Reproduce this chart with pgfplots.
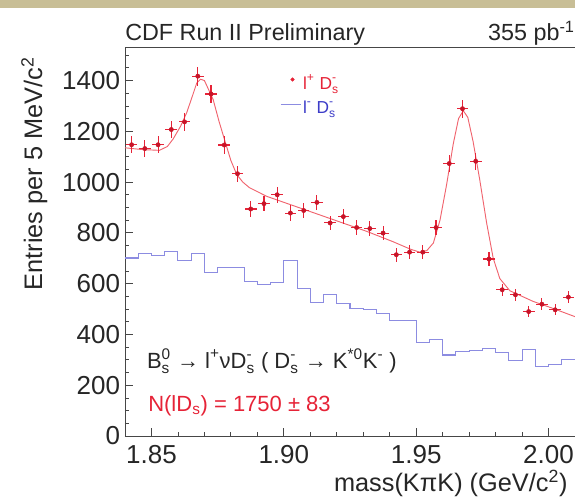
\documentclass[border=0pt]{standalone}
\usepackage{amsmath}
\usepackage{fontspec}
\setmainfont{Liberation Sans}
\usepackage{pgfplots}
\pgfplotsset{compat=1.18}
\usepackage{pgfplotstable}
\definecolor{cdfred}{RGB}{230,35,55}
\definecolor{dotred}{RGB}{200,20,40}
\definecolor{fitred}{RGB}{240,100,110}
\definecolor{cdfblue}{RGB}{140,140,225}
\definecolor{legblue}{RGB}{60,60,200}
\definecolor{axgray}{RGB}{70,70,70}
\definecolor{tan}{RGB}{200,190,150}
\newcommand{\Ds}{\text{D}^{\text{-}}_{\text{s}}}

\pgfplotstableread{
x y ey
1.8425 1147 34
1.8475 1132 34
1.8525 1147 34
1.8575 1207 35
1.8625 1237 35
1.8675 1417 38
1.8725 1347 37
1.8775 1146 34
1.8825 1033 32
1.8875 894 30
1.8925 915 30
1.8975 950 31
1.9025 878 30
1.9075 888 30
1.9125 920 30
1.9175 839 29
1.9225 864 29
1.9275 821 29
1.9325 817 29
1.9375 799 28
1.9425 714 27
1.9475 724 27
1.9525 724 27
1.9575 821 29
1.9625 1073 33
1.9675 1289 36
1.9725 1082 33
1.9775 697 26
1.9825 576 24
1.9875 556 24
1.9925 490 22
1.9975 519 23
2.0025 497 22
2.0075 547 23
}\rightsign

\pgfplotstableread{
x y
1.840 701
1.845 720
1.850 710
1.855 727
1.860 691
1.865 720
1.870 644
1.875 664
1.880 664
1.885 608
1.890 595
1.895 605
1.900 691
1.905 580
1.910 527
1.915 558
1.920 521
1.925 503
1.930 499
1.935 481
1.940 455
1.945 455
1.950 369
1.955 379
1.960 319
1.965 333
1.970 335
1.975 346
1.980 328
1.985 296
1.990 342
1.995 273
2.000 283
2.005 302
2.010 302
}\wrongsign

\pgfplotstableread{
x y
1.8400 1135
1.8465 1128
1.8530 1125
1.8560 1140
1.8582 1170
1.8610 1220
1.8633 1273
1.8655 1340
1.8671 1390
1.8685 1405
1.8700 1400
1.8733 1325
1.8755 1240
1.8778 1160
1.8800 1085
1.8822 1030
1.8845 1000
1.8870 978
1.8935 944
1.9061 898
1.9187 852
1.9313 806
1.9413 765
1.9480 735
1.9514 724
1.9540 730
1.9565 760
1.9590 850
1.9615 990
1.9640 1150
1.9660 1250
1.9678 1281
1.9695 1255
1.9715 1160
1.9740 1010
1.9766 840
1.9791 700
1.9816 620
1.9854 572
1.9900 550
1.9942 530
2.0010 505
2.0100 470
}\fitcurve

\begin{document}
\begin{tikzpicture}
\begin{axis}[
  name=ax,
  scale only axis,
  width=337.5pt, height=291.75pt,
  xmin=1.84, xmax=2.01, ymin=0, ymax=1532,
  axis line style={draw=axgray, line width=0.7pt},
  tick style={draw=axgray, line width=0.6pt},
  major tick length=6pt, minor tick length=3pt,
  tick pos=left, tick align=inside,
  xtick={1.85,1.90,1.95,2.00},
  xticklabels={1.85,1.90,1.95,2.00},
  minor xtick={1.84,1.86,1.87,1.88,1.89,1.91,1.92,1.93,1.94,1.96,1.97,1.98,1.99,2.01},
  ytick={0,200,400,600,800,1000,1200,1400},
  minor ytick={50,100,150,250,300,350,450,500,550,650,700,750,850,900,950,1050,1100,1150,1250,1300,1350,1450,1500},
  /pgf/number format/1000 sep={},
  /pgf/number format/assume math mode=true,
  ticklabel style={font=\fontsize{19.5}{22}\selectfont, text=black!85},
  xticklabel style={anchor=north, inner sep=0pt, yshift=-7pt},
  yticklabel style={anchor=east, inner sep=0pt, xshift=-3.5pt},
  xlabel={mass(KπK) (GeV/c\textsuperscript{2})},
  xlabel style={at={(axis description cs:0.984,-0.1414)}, anchor=base east, inner sep=0pt, font=\fontsize{19}{22}\selectfont, text=black!85},
  ylabel={Entries per 5 MeV/c\textsuperscript{2}},
  ylabel style={at={(axis description cs:-0.1844,0.974)}, anchor=base east, inner sep=0pt, font=\fontsize{19}{22}\selectfont, text=black!85},
  legend style={at={(axis description cs:0.344,0.936)}, anchor=north west, draw=none, fill=none,
    inner sep=0pt, font=\fontsize{13}{15}\selectfont, row sep=4pt,
    nodes={inner sep=1.5pt}},
  legend cell align=left,
  clip=true,
]
\addplot[const plot, cdfblue, line width=0.8pt, forget plot] table[x=x,y=y] {\wrongsign};
\addplot[fitred, line width=0.7pt, forget plot] table[x=x,y=y] {\fitcurve};
\addplot[only marks, mark=*, mark size=1.6pt, mark options={fill=dotred, draw=dotred}, cdfred, forget plot,
  error bars/.cd, x dir=both, x fixed=0.0022, y dir=both, y explicit,
  error bar style={cdfred, line width=0.8pt}, error mark=none]
  table[x=x, y=y, y error=ey] {\rightsign};
\addlegendimage{legend image code/.code={\fill[cdfred] (9pt,0.25em) circle (1.3pt);}}
\addlegendentry{\textcolor{cdfred}{$\text{l}^{\text{+}}$ $\Ds$}}
\addlegendimage{legend image code/.code={\draw[cdfblue, line width=0.8pt] (0pt,0.3em) -- (15pt,0.3em);}}
\addlegendentry{\textcolor{legblue}{$\text{l}^{\text{-}}$ $\Ds$}}
\end{axis}
\node[anchor=base west, inner sep=0pt, font=\fontsize{17.5}{20}\selectfont, text=black!85] at (0pt,296.25pt) {CDF Run II Preliminary};
\node[anchor=base east, inner sep=0pt, font=\fontsize{17.5}{20}\selectfont, text=black!85] at (337.5pt,296.25pt) {355 pb\textsuperscript{-1}};
\node[anchor=base west, inner sep=0pt, font=\fontsize{16.5}{19}\selectfont, text=black!85] at (16.3pt,50.8pt)
  {$\text{B}^{\text{0}}_{\text{s}}$ → $\text{l}^{\text{+}}$ν$\Ds$ ( $\Ds$ → $\text{K}^{\text{*0}}\text{K}^{\text{-}}$ )};
\node[anchor=base west, inner sep=0pt, font=\fontsize{16.5}{19}\selectfont, text=cdfred] at (17.25pt,18.4pt)
  {N(lD$_{\text{s}}$) = 1750 ± 83};
\pgfresetboundingbox
\fill[tan] (-93.75pt,321pt) rectangle (337.5pt,327pt);
\path[use as bounding box] (-93.75pt,-49.5pt) rectangle (337.5pt,327pt);
\end{tikzpicture}
\end{document}
